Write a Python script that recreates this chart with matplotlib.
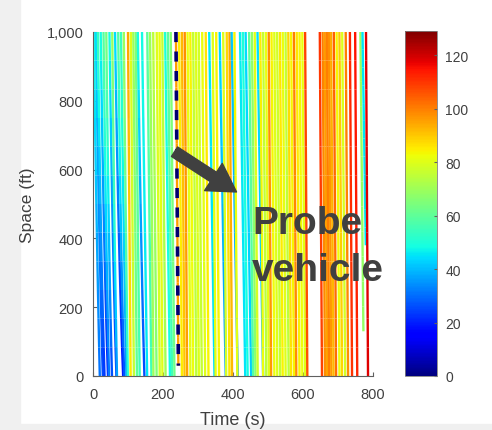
import matplotlib.pyplot as plt
from matplotlib.collections import LineCollection
from matplotlib.colors import Normalize
from matplotlib.patches import Rectangle

plt.rcParams["font.family"] = ["Liberation Sans", "DejaVu Sans"]

# vehicle trajectories: time entering at 1000 ft, speed (mph) at 1000 ft / at the end, last position seen
t_in = [2, 8, 14, 22, 30, 38, 47, 55, 63, 72, 80, 88,
        100, 108, 115, 122, 128, 140, 155, 163, 172, 182, 190, 198, 206, 214, 222,
        246, 254, 262, 270, 278, 286, 294, 302, 312, 322, 332, 342, 352, 362, 372,
        382, 390, 396, 404,
        420, 428, 436, 446, 454, 462, 470, 478, 486, 494, 502, 510, 518, 526, 534,
        542, 550, 558, 566, 574, 582, 590, 598, 606,
        648, 656, 662, 668, 674, 680, 688, 696, 704, 712, 722, 734, 749, 764, 770, 780]
v_top = [50, 45, 55, 50, 60, 65, 50, 70, 45, 60, 55, 70,
         95, 80, 70, 65, 50, 48, 60, 70, 75, 80, 82, 76, 50, 60, 66,
         85, 92, 98, 82, 84, 76, 80, 78, 82, 86, 46, 80, 84, 44, 80,
         88, 95, 42, 84,
         46, 50, 44, 60, 68, 80, 45, 85, 76, 82, 98, 84, 80, 78, 86,
         82, 76, 88, 84, 100, 86, 84, 82, 108,
         110, 100, 96, 100, 98, 94, 104, 84, 90, 80, 100, 112, 115, 70, 45, 118]
v_bot = [30, 25, 22, 20, 30, 25, 22, 35, 18, 25, 35, 50,
         85, 75, 60, 55, 25, 45, 55, 70, 65, 78, 80, 70, 48, 55, 62,
         85, 90, 95, 80, 82, 74, 80, 76, 80, 84, 44, 82, 84, 35, 78,
         86, 92, 36, 80,
         45, 48, 42, 58, 66, 78, 40, 82, 74, 80, 96, 82, 80, 76, 84,
         80, 74, 86, 84, 98, 84, 82, 80, 106,
         108, 98, 95, 100, 96, 92, 102, 82, 88, 78, 98, 110, 112, 68, 45, 118]
y_end = [0] * 83 + [130, 380, 0]

# probe vehicle
probe_t_in = 237
probe_speed = 96
probe_end = 30

speed_ticks = [0, 20, 40, 60, 80, 100, 120]
MPH_TO_FTS = 1.467


def trajectory(t0, vt, vb, yend, pieces=12):
    # speed changes gradually with distance travelled
    segs, speeds = [], []
    t, y = t0, 1000.0
    dy = (1000.0 - yend) / pieces
    for k in range(pieces):
        v = vt + (vb - vt) * (k + 0.5) / pieces
        t_next = t + dy / (v * MPH_TO_FTS)
        segs.append([(t, y), (t_next, y - dy)])
        speeds.append(v)
        t, y = t_next, y - dy
    return segs, speeds


segs, speeds = [], []
for t0, vt, vb, ye in zip(t_in, v_top, v_bot, y_end):
    s, v = trajectory(t0, vt, vb, ye)
    segs += s
    speeds += v
probe_segs, probe_v = trajectory(probe_t_in, probe_speed, probe_speed, probe_end)
segs += probe_segs
speeds += probe_v

fig = plt.figure(figsize=(4.92, 4.31), dpi=100)
fig.patches.append(Rectangle((0, 0), 20 / 492, 1, transform=fig.transFigure, color="#f0f0f0", zorder=-5))
fig.patches.append(Rectangle((0, 0), 1, 6 / 431, transform=fig.transFigure, color="#f0f0f0", zorder=-5))

ax = fig.add_axes([93 / 492, 54 / 431, 280 / 492, 344 / 431])
cax = fig.add_axes([405 / 492, 54 / 431, 32 / 492, 345 / 431])
ax.patch.set_alpha(0)

norm = Normalize(0, 129)
lc = LineCollection(segs, cmap="jet", norm=norm, linewidths=1.7, capstyle="butt")
lc.set_array(speeds)
ax.add_collection(lc)

# dashed overlay for the probe vehicle
px = [probe_segs[0][0][0], probe_segs[-1][1][0]]
py = [probe_segs[0][0][1], probe_segs[-1][1][1]]
ax.plot(px, py, color="#000070", lw=2.6, linestyle=(0, (2.8, 2.6)), zorder=3)

ax.annotate("", xy=(410, 535), xytext=(233, 652),
            arrowprops=dict(arrowstyle="simple,head_width=1.3,head_length=1.1,tail_width=0.45",
                            color="#404040", mutation_scale=18, shrinkA=0, shrinkB=0), zorder=4)
ax.text(455, 497, "Probe\nvehicle", color="#404040", fontsize=28, fontweight="bold",
        va="top", ha="left", linespacing=1.38, zorder=5, clip_on=False)

ax.set_xlim(0, 800)
ax.set_ylim(0, 1000)
ax.set_xticks([0, 200, 400, 600, 800])
ax.set_yticks([0, 200, 400, 600, 800, 1000])
ax.set_yticklabels(["0", "200", "400", "600", "800", "1,000"])
for side in ["top", "right"]:
    ax.spines[side].set_visible(False)
for side in ["left", "bottom"]:
    ax.spines[side].set_color("#606060")
    ax.spines[side].set_linewidth(0.8)
ax.tick_params(direction="in", length=3, color="#606060", labelsize=10.5, labelcolor="#404040")
ax.tick_params(axis="x", pad=8)
ax.tick_params(axis="y", pad=7)
ax.set_xlabel("Time (s)", fontsize=13, color="#404040", labelpad=7)
ax.set_ylabel("Space (ft)", fontsize=12.5, color="#404040", labelpad=8)

cb = fig.colorbar(lc, cax=cax)
cb.set_ticks(speed_ticks)
cb.outline.set_edgecolor("#808080")
cb.outline.set_linewidth(0.6)
cax.tick_params(direction="in", length=2, color="#606060", labelsize=10, labelcolor="#404040", pad=6)

fig.savefig("out.png", dpi=100)
